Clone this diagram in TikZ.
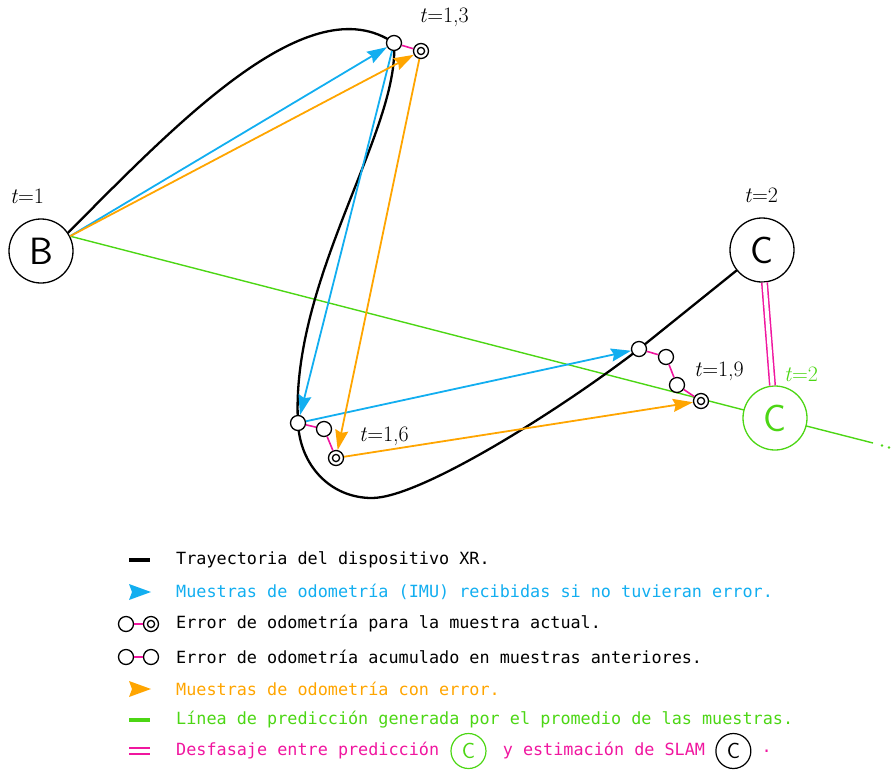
\documentclass[tikz,border=0pt]{standalone}
\usepackage{fontspec}
\setmonofont{DejaVu Sans Mono}
\usepackage{tikz}
\usetikzlibrary{arrows.meta,positioning,backgrounds}
\definecolor{cIMU}{HTML}{12AEF0}
\definecolor{cOdo}{HTML}{FFA500}
\definecolor{cPred}{HTML}{4CD614}
\definecolor{cErr}{HTML}{F0169F}

\begin{document}
\begin{tikzpicture}[x=1pt,y=-1pt,>={Stealth[length=20pt,width=13pt,inset=2.5pt]},
   smp/.style={circle,draw,line width=1.3pt,fill=white,minimum size=15pt,inner sep=0pt},
   cur/.style={smp,path picture={\draw[line width=1.3pt]
       (path picture bounding box.center) circle (3.6pt);}},
   big/.style={circle,draw,line width=1.3pt,fill=white,minimum size=64pt,inner sep=0pt,
       font=\sffamily\fontsize{38}{38}\selectfont},
   mini/.style={circle,draw,line width=1.2pt,minimum size=35pt,inner sep=0pt,
       font=\sffamily\fontsize{22}{22}\selectfont},
   tlab/.style={font=\fontsize{22}{22}\selectfont},
   vec/.style={line width=1.8pt,->},
   err/.style={cErr,line width=1.6pt},
   leg/.style={anchor=west,inner sep=0pt,font=\ttfamily\fontsize{16.8}{20}\selectfont}]
  \useasboundingbox (0,0) rectangle (891,769);
  % key frames
  \node[big] (B) at (41,251) {B};
  \node[big] (C) at (762,250) {C};
  \node[big,draw=cPred,text=cPred] (Cg) at (775,418) {C};
  \node[tlab] (lB) at (27,196) {\textit{t}=1};
  \node[tlab] (lC) at (761,195) {\textit{t}=2};
  \node[tlab,cPred] (lCg) at (801,374) {\textit{t}=2};
  % samples
  \node[smp] (T1) at (394,43) {};
  \node[cur] (T2) at (421,51) {};
  \node[smp] (L1) at (298,423) {};
  \node[smp] (L2) at (324,429) {};
  \node[cur] (L3) at (336,458) {};
  \node[smp] (R1) at (639,349) {};
  \node[smp] (R2) at (666,357) {};
  \node[smp] (R3) at (677,385) {};
  \node[cur] (R4) at (701,401) {};
  \node[tlab] (lT) at (444,17) {\textit{t}=1,3};
  \node[tlab] (lL) at (384,436) {\textit{t}=1,6};
  \node[tlab] (lR) at (719,371) {\textit{t}=1,9};
  \coordinate (Bo) at (B.27);
  \coordinate (Bt) at (B.34);
  \coordinate (Bot) at (372,498);
  \coordinate (Pend) at (873,443);
  \begin{pgfonlayer}{background}
    % prediction line
    \draw[cPred,line width=1.4pt] (Bo) -- (Cg.center) -- (Pend);
    \foreach \d in {(882,445.5),(889,447.5)}{\fill[cPred] \d circle (1.3pt);}
    % trajectory
    \draw[line width=2.3pt,line cap=round] (Bt) .. controls (180,120) and (310,-15) .. (T1.center)
        .. controls (400,130) and (290,280) .. (L1.center)
        .. controls (300,465) and (330,498) .. (Bot)
        .. controls (420,498) and (560,410) .. (R1.center) -- (C);
  \end{pgfonlayer}
  % odometry without error
  \draw[vec,cIMU] (Bo) -- (T1);
  \draw[vec,cIMU] (T1) -- (L1);
  \draw[vec,cIMU] (L1) -- (R1);
  % odometry with error
  \draw[vec,cOdo] (Bo) -- (T2);
  \draw[vec,cOdo] (T2) -- (L3);
  \draw[vec,cOdo] (L3) -- (R4);
  % errors
  \draw[err] (T1) -- (T2);
  \draw[err] (L1) -- (L2) -- (L3);
  \draw[err] (R1) -- (R2) -- (R3) -- (R4);
  \draw[cErr,line width=1.5pt,double=white,double distance=4pt] (C) -- (Cg);
  % legend
  \draw[line width=4.5pt] (129,560) -- (150,560);
  \node[leg] (k1) at (176,560) {Trayectoria del dispositivo XR.};
  \fill[cIMU] (129,584) -- (151,592) -- (129,600) -- (132,592) -- cycle;
  \node[leg,text=cIMU] (k2) at (176,592) {Muestras de odometría (IMU) recibidas si no tuvieran error.};
  \node[smp] (a3) at (126,624) {};
  \node[cur] (b3) at (151,624) {};
  \draw[err] (a3) -- (b3);
  \node[leg] (k3) at (176,624) {Error de odometría para la muestra actual.};
  \node[smp] (a4) at (126,657) {};
  \node[smp] (b4) at (151,657) {};
  \draw[err] (a4) -- (b4);
  \node[leg] (k4) at (176,657) {Error de odometría acumulado en muestras anteriores.};
  \fill[cOdo] (129,681) -- (151,689) -- (129,697) -- (132,689) -- cycle;
  \node[leg,text=cOdo] (k5) at (176,689) {Muestras de odometría con error.};
  \draw[cPred,line width=4.5pt] (129,720) -- (150,720);
  \node[leg,text=cPred] (k6) at (176,720) {Línea de predicción generada por el promedio de las muestras.};
  \draw[cErr,line width=2.6pt] (129,748) -- (150,748) (129,754) -- (150,754);
  \node[leg,text=cErr] (k7) at (176,751) {Desfasaje entre predicción};
  \node[mini,draw=cPred,text=cPred,right=11pt of k7] (m1) {C};
  \node[leg,text=cErr,right=16pt of m1] (k8) {y estimación de SLAM};
  \node[mini,right=10pt of k8] (m2) {C};
  \node[leg,text=cErr,right=10pt of m2] (k9) {.};
\end{tikzpicture}
\end{document}
